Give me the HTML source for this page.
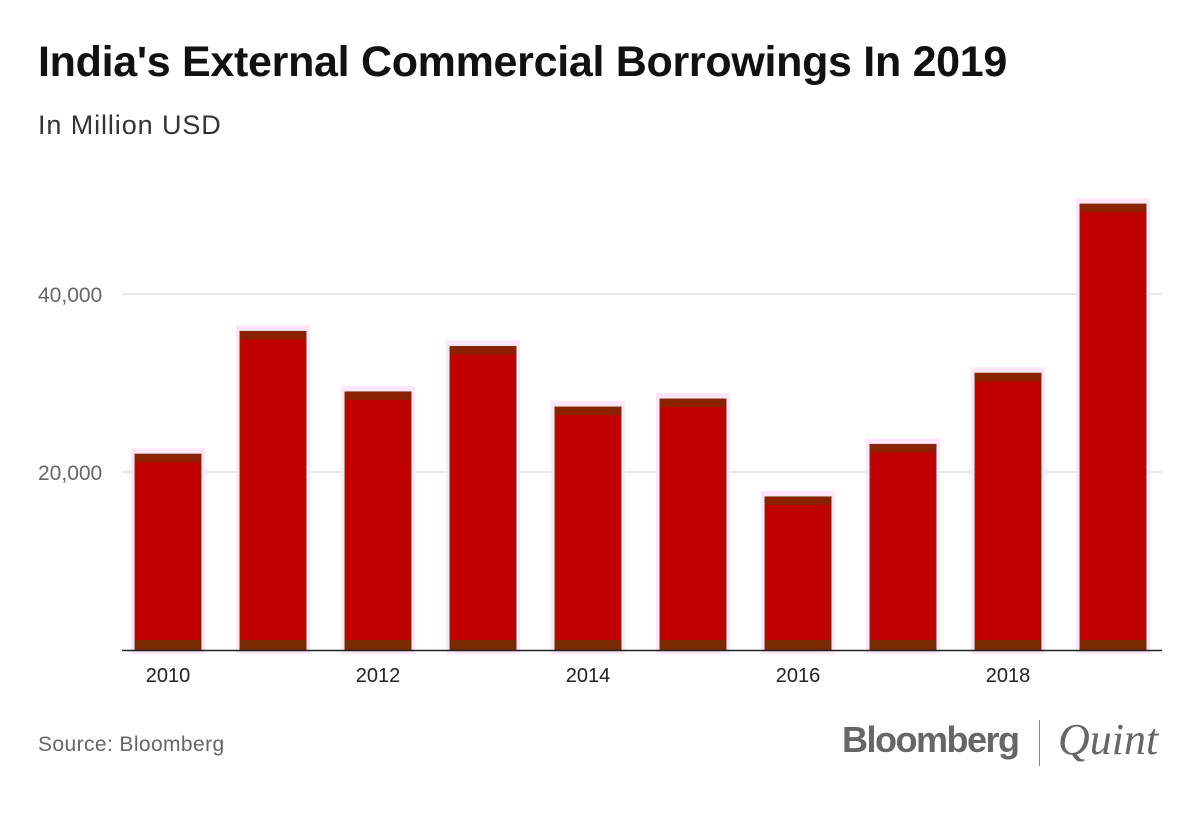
<!DOCTYPE html>
<html><head><meta charset="utf-8"><style>
body{margin:0;width:1200px;height:825px;background:#fff;overflow:hidden;font-family:"Liberation Sans",sans-serif;position:relative}
.t{position:absolute;white-space:nowrap}
</style></head><body>
<div class="t" style="left:38px;top:38px;font-size:43px;font-weight:bold;color:#111;letter-spacing:-0.3px">India's External Commercial Borrowings In 2019</div>
<div class="t" style="left:38px;top:110px;font-size:27px;color:#333;letter-spacing:0.9px">In Million USD</div>
<svg id="chart" width="1200" height="825" style="position:absolute;left:0;top:0"></svg>
<div class="t" style="left:38px;top:733px;font-size:21px;color:#666;letter-spacing:0.4px">Source: Bloomberg</div>
<div class="t" style="left:842px;top:719px;font-size:36px;font-weight:bold;color:#666;letter-spacing:-1.5px">Bloomberg</div>
<div style="position:absolute;left:1039px;top:720px;width:1px;height:46px;background:#888"></div>
<div class="t" style="left:1058px;top:714px;font-size:44px;font-style:italic;color:#666;font-family:'Liberation Serif',serif">Quint</div>
<script>
const categories=["2010","2011","2012","2013","2014","2015","2016","2017","2018","2019"];
const values=[22000,35800,29000,34100,27300,28200,17200,23100,31100,50100];
const tickValues=[20000,40000];
const tickLabels=["20,000","40,000"];
const xLabelShown=["2010","2012","2014","2016","2018"];
const svg=document.getElementById('chart');
const NS='http://www.w3.org/2000/svg';
const y=v=>650-v*178/20000;
const x=i=>135+i*105;
const bw=66;
function mk(t,a){const e=document.createElementNS(NS,t);for(const k in a)e.setAttribute(k,a[k]);svg.appendChild(e);return e;}
tickValues.forEach((v,i)=>{
 const l=mk('line',{x1:122,x2:1162,y1:y(v),y2:y(v),stroke:'#ccc','stroke-width':1});
 
 
 const t=mk('text',{x:38,y:y(v)+8,'font-size':21,fill:'#666','font-family':'Liberation Sans, sans-serif'});
 t.textContent=tickLabels[i];
 
 
});
values.forEach((v,i)=>{
 const top=y(v);
 const h=mk('rect',{x:x(i)-4,y:top-6,width:bw+8,height:650-top+10,fill:'#fde6fb'});
 
 
 const b=mk('rect',{x:x(i),y:top,width:bw,height:650-top,fill:'#c00000',stroke:'#6b3a0a','stroke-width':1});
 
 
 const tb=mk('rect',{x:x(i),y:top,width:bw,height:8,fill:'#8a2200'});
 
 
 const bb=mk('rect',{x:x(i),y:640,width:bw,height:10,fill:'#7a2a00'});
 
 
 if(xLabelShown.includes(categories[i])){
  const t=mk('text',{x:x(i)+bw/2,y:682,'font-size':20,fill:'#222','text-anchor':'middle','font-family':'Liberation Sans, sans-serif'});
  t.textContent=categories[i];
  
  
 }
});
const ax=mk('line',{x1:122,x2:1162,y1:650.5,y2:650.5,stroke:'#222','stroke-width':1.5});


</script>
</body></html>
